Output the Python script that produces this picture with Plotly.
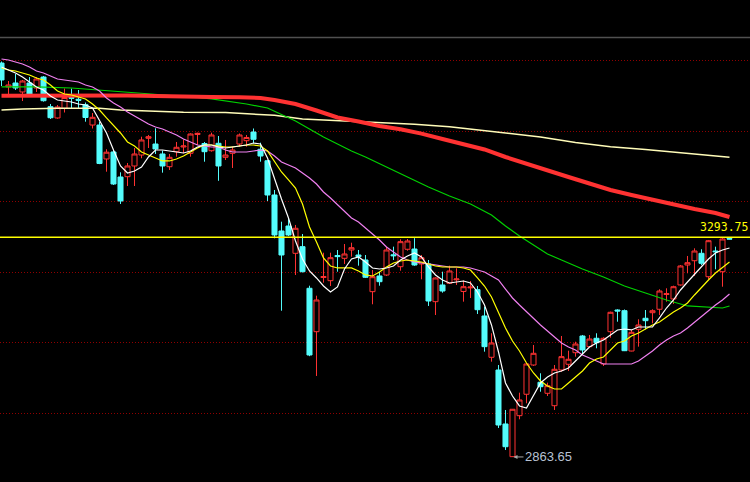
import plotly.graph_objects as go

# ---- daily bars (oldest first) ----
opens = [3635.0, 3588.1, 3595.9, 3578.3, 3595.9, 3586.1, 3607.6, 3549.5, 3527.4, 3546.3,
         3567.5, 3564.0, 3553.4, 3513.6, 3513.6, 3447.1, 3460.8, 3411.8, 3412.4, 3433.4,
         3454.9, 3487.6, 3476.4, 3456.9, 3432.0, 3461.4, 3470.6, 3458.2, 3495.0, 3477.4,
         3463.3, 3477.8, 3450.4, 3458.2, 3476.4, 3482.9, 3499.9, 3466.1, 3443.7, 3376.6,
         3306.1, 3315.9, 3262.4, 3275.4, 3193.9, 3108.9, 3215.0, 3208.8, 3258.0, 3252.6,
         3268.9, 3259.1, 3249.3, 3187.3, 3218.0, 3219.9, 3259.5, 3236.2, 3270.3, 3270.8,
         3241.5, 3241.5, 3167.7, 3200.4, 3203.7, 3210.5, 3187.7, 3194.7, 3191.2, 3139.7,
         3058.8, 3033.9, 2928.2, 2864.2, 2944.5, 2986.4, 3043.7, 3009.9, 2988.3, 2964.0,
         3033.9, 3045.1, 3067.8, 3100.5, 3079.6, 3096.0, 3045.7, 3108.9, 3151.4, 3150.1,
         3071.1, 3113.6, 3135.2, 3146.1, 3152.8, 3181.8, 3173.0, 3200.4, 3239.5, 3247.9,
         3262.4, 3216.6, 3266.9, 3226.4, 3291.4]
highs = [3638.0, 3599.8, 3613.5, 3601.8, 3607.6, 3607.6, 3609.5, 3554.8, 3552.8, 3585.1,
         3585.0, 3582.2, 3557.7, 3537.1, 3520.1, 3466.1, 3464.7, 3421.0, 3439.2, 3468.6,
         3490.7, 3494.1, 3507.2, 3463.7, 3456.9, 3480.4, 3485.3, 3497.4, 3498.6, 3480.4,
         3498.6, 3492.1, 3484.3, 3471.2, 3497.0, 3494.1, 3506.8, 3479.0, 3445.1, 3386.4,
         3324.3, 3331.0, 3317.9, 3300.2, 3199.0, 3179.4, 3263.6, 3263.6, 3268.9, 3280.6,
         3283.2, 3268.9, 3259.1, 3229.7, 3226.4, 3275.4, 3275.4, 3289.9, 3290.4, 3292.0,
         3259.1, 3249.3, 3215.4, 3226.4, 3238.2, 3233.0, 3209.2, 3208.2, 3198.4, 3157.9,
         3105.8, 3043.7, 2955.6, 2957.5, 2989.5, 3047.0, 3082.9, 3027.5, 3009.1, 3043.7,
         3100.5, 3071.7, 3089.3, 3102.5, 3102.5, 3105.8, 3098.0, 3148.2, 3152.8, 3152.4,
         3112.3, 3133.2, 3151.4, 3152.8, 3192.0, 3193.9, 3199.0, 3239.5, 3257.2, 3272.2,
         3270.3, 3288.5, 3275.4, 3293.75, 3291.6]
lows = [3590.0, 3572.4, 3582.2, 3560.6, 3571.0, 3578.3, 3559.5, 3525.4, 3526.0, 3538.1,
        3547.0, 3547.0, 3520.1, 3506.8, 3437.0, 3422.2, 3396.2, 3359.0, 3394.2, 3394.2,
        3448.5, 3468.6, 3456.9, 3420.3, 3425.5, 3451.6, 3458.2, 3451.6, 3474.5, 3441.8,
        3461.4, 3404.4, 3445.1, 3429.5, 3471.2, 3471.2, 3477.8, 3441.8, 3364.8, 3291.8,
        3150.0, 3296.3, 3219.9, 3225.0, 3061.0, 3022.2, 3204.9, 3198.4, 3226.4, 3241.5,
        3255.8, 3238.2, 3214.0, 3162.6, 3199.0, 3218.0, 3249.3, 3228.4, 3267.5, 3238.0,
        3211.5, 3159.3, 3141.6, 3185.3, 3202.3, 3200.4, 3167.7, 3174.9, 3143.6, 3069.8,
        3050.2, 2920.4, 2877.3, 2863.65, 2937.4, 2968.7, 3042.0, 2991.4, 2983.0, 2955.6,
        3030.6, 3032.0, 3060.0, 3064.7, 3078.0, 3076.4, 3041.8, 3097.2, 3128.5, 3071.0,
        3070.5, 3079.6, 3113.6, 3125.4, 3141.6, 3167.7, 3163.2, 3199.0, 3223.3, 3218.0,
        3239.5, 3211.5, 3231.1, 3197.0, 3289.8]
closes = [3601.8, 3592.0, 3586.1, 3599.8, 3572.4, 3603.7, 3561.2, 3527.9, 3548.9, 3567.5,
          3566.0, 3562.0, 3528.3, 3528.7, 3438.3, 3460.4, 3398.1, 3364.8, 3433.4, 3456.9,
          3484.3, 3490.7, 3466.7, 3433.4, 3450.4, 3470.0, 3472.5, 3496.0, 3497.4, 3461.4,
          3494.1, 3433.4, 3454.9, 3464.7, 3494.1, 3489.2, 3485.6, 3452.9, 3376.6, 3298.3,
          3259.1, 3298.3, 3311.4, 3226.4, 3063.3, 3171.0, 3217.0, 3253.8, 3256.0, 3261.1,
          3273.4, 3255.8, 3215.4, 3216.6, 3206.8, 3268.9, 3257.7, 3285.2, 3286.5, 3239.5,
          3253.8, 3169.0, 3214.1, 3188.6, 3227.8, 3212.1, 3197.0, 3196.3, 3152.0, 3079.6,
          3086.8, 2926.2, 2883.7, 2957.0, 2975.2, 3045.7, 3066.6, 3001.2, 3003.2, 3035.3,
          3060.0, 3054.9, 3084.8, 3073.1, 3094.6, 3087.4, 3096.0, 3146.9, 3149.5, 3071.7,
          3107.7, 3122.0, 3130.5, 3150.0, 3188.6, 3183.3, 3197.0, 3237.6, 3244.0, 3266.9,
          3242.8, 3287.1, 3265.5, 3290.4, 3290.2]
days = list(range(len(opens)))

# ---- moving averages ----
ma5 = [3627.2, 3621.3, 3615.5, 3607.6, 3597.8, 3588.1, 3582.2, 3570.4, 3562.6, 3560.6,
       3558.7, 3554.8, 3552.8, 3546.9, 3523.4, 3498.0, 3464.7, 3433.4, 3419.7, 3423.6,
       3431.4, 3451.0, 3464.7, 3464.7, 3462.7, 3460.8, 3458.8, 3462.7, 3470.6, 3474.5,
       3474.5, 3470.6, 3468.6, 3470.6, 3472.5, 3474.5, 3478.4, 3476.5, 3449.0, 3407.9,
       3368.8, 3331.6, 3286.5, 3251.3, 3227.8, 3214.1, 3198.4, 3186.7, 3196.5, 3231.7,
       3251.3, 3255.2, 3245.4, 3233.7, 3231.7, 3233.7, 3237.6, 3249.3, 3257.2, 3263.0,
       3255.2, 3235.6, 3220.0, 3210.2, 3204.3, 3206.2, 3208.2, 3204.3, 3186.7, 3161.2,
       3122.1, 3069.2, 3008.5, 2983.0, 2963.5, 2959.5, 2985.0, 3008.5, 3020.2, 3028.1,
       3032.0, 3037.9, 3051.6, 3065.3, 3079.0, 3086.8, 3092.7, 3102.5, 3112.3, 3114.2,
       3112.3, 3118.1, 3118.1, 3118.1, 3135.8, 3155.3, 3171.0, 3190.6, 3206.2, 3221.9,
       3237.6, 3251.3, 3263.0, 3268.9, 3272.8]
ma10 = [3625.3, 3621.3, 3619.4, 3615.5, 3611.6, 3605.7, 3601.8, 3592.0, 3580.2, 3574.4,
        3572.4, 3568.5, 3564.6, 3554.8, 3543.0, 3527.4, 3513.7, 3498.0, 3480.4, 3472.5,
        3460.8, 3454.9, 3449.0, 3443.2, 3443.2, 3447.1, 3453.0, 3460.8, 3468.6, 3474.5,
        3474.5, 3472.5, 3470.6, 3470.6, 3472.5, 3474.5, 3474.5, 3472.5, 3462.7, 3441.2,
        3421.6, 3406.0, 3390.3, 3359.0, 3313.9, 3284.6, 3253.2, 3237.6, 3233.7, 3233.7,
        3233.7, 3227.8, 3220.0, 3218.0, 3225.8, 3235.6, 3243.5, 3247.4, 3249.3, 3247.4,
        3245.4, 3241.5, 3237.6, 3235.6, 3235.6, 3235.6, 3233.7, 3229.7, 3214.1, 3198.4,
        3176.9, 3147.5, 3116.2, 3090.7, 3071.1, 3047.6, 3028.1, 3012.4, 3002.6, 2996.7,
        2996.7, 3008.5, 3020.2, 3032.0, 3047.6, 3055.5, 3059.4, 3073.1, 3086.8, 3090.7,
        3100.5, 3106.4, 3114.2, 3122.1, 3127.9, 3137.7, 3147.5, 3155.3, 3165.1, 3180.8,
        3196.5, 3210.2, 3223.9, 3235.6, 3245.4]
ma20 = [3642.9, 3640.9, 3637.0, 3633.1, 3627.2, 3619.4, 3615.5, 3609.6, 3603.7, 3601.8,
        3599.8, 3597.8, 3592.0, 3588.1, 3580.2, 3566.5, 3556.7, 3548.9, 3539.1, 3531.3,
        3523.4, 3515.6, 3509.7, 3505.8, 3499.9, 3494.1, 3486.2, 3480.4, 3474.5, 3472.5,
        3470.6, 3470.6, 3464.7, 3460.8, 3460.8, 3460.8, 3462.7, 3464.7, 3462.7, 3453.0,
        3441.2, 3435.3, 3429.5, 3419.7, 3409.9, 3398.1, 3382.5, 3370.7, 3357.0, 3343.3,
        3331.6, 3323.7, 3312.0, 3300.2, 3288.5, 3274.8, 3265.0, 3255.2, 3249.3, 3245.4,
        3243.5, 3241.5, 3239.5, 3237.6, 3235.6, 3235.6, 3235.6, 3233.7, 3229.7, 3225.8,
        3218.0, 3210.2, 3192.5, 3174.9, 3161.2, 3147.5, 3135.8, 3122.1, 3110.3, 3098.6,
        3086.8, 3079.0, 3073.1, 3063.3, 3057.4, 3051.6, 3045.7, 3045.7, 3045.7, 3045.7,
        3045.7, 3051.6, 3061.4, 3071.1, 3082.9, 3092.7, 3100.5, 3106.4, 3116.2, 3127.9,
        3139.7, 3149.5, 3161.2, 3171.0, 3182.8]
ma60_days = [0, 5, 10, 15, 20, 25, 28, 30, 35, 38, 40, 42, 44, 46, 48, 50, 52, 55, 58, 61,
             64, 67, 70, 72, 74, 76, 78, 80, 83, 86, 89, 92, 95, 98, 101, 103, 104]
ma60 = [3588.1, 3588.1, 3586.1, 3581.2, 3576.3, 3571.4, 3567.5, 3564.6, 3554.8, 3546.9,
        3534.2, 3521.5, 3505.8, 3490.2, 3476.5, 3462.7, 3451.0, 3431.4, 3411.8, 3392.3,
        3374.6, 3359.0, 3337.4, 3315.9, 3296.3, 3278.7, 3261.1, 3249.3, 3231.7, 3216.0,
        3198.4, 3184.7, 3171.0, 3159.3, 3157.3, 3155.3, 3159.3]
ma120_days = [0, 12, 15, 18, 22, 26, 30, 34, 37, 39, 42, 45, 48, 51, 54, 57, 60, 63, 66, 69,
              72, 75, 78, 81, 84, 87, 90, 93, 96, 99, 102, 104]
ma120 = [3570.8, 3571.4, 3572.8, 3571.4, 3570.4, 3568.9, 3568.5, 3567.9, 3566.5, 3562.6,
         3554.8, 3542.0, 3528.3, 3520.5, 3511.7, 3505.2, 3496.8, 3486.2, 3476.4, 3465.7,
         3451.0, 3437.3, 3423.6, 3411.8, 3399.1, 3386.4, 3376.6, 3366.8, 3357.0, 3349.2,
         3341.4, 3333.5]
ma250_days = [0, 3, 8, 14, 17, 21, 26, 32, 35, 39, 43, 49, 54, 59, 64, 68, 73, 77, 82, 87,
              92, 97, 101, 104]
ma250 = [3543.0, 3545.0, 3546.4, 3546.4, 3543.0, 3541.1, 3538.5, 3538.1, 3535.2, 3532.6,
         3525.4, 3521.5, 3517.0, 3515.0, 3510.1, 3504.3, 3497.0, 3490.2, 3479.4, 3471.2,
         3465.7, 3459.8, 3454.9, 3450.4]

# ---- price levels ----
grid_levels = [3640.3, 3501.3, 3364.3, 3225.2, 3088.2, 2949.2]
mark_price = 3293.75
low_day = 73
low_price = 2863.65

UP = "#ff3232"
DOWN = "#54fcfc"

fig = go.Figure()

fig.add_trace(go.Candlestick(
    x=days, open=opens, high=highs, low=lows, close=closes,
    increasing=dict(line=dict(color=UP, width=1), fillcolor="#000000"),
    decreasing=dict(line=dict(color=DOWN, width=1), fillcolor=DOWN),
    whiskerwidth=0,
    hoverinfo="skip",
))

fig.add_trace(go.Scatter(x=ma250_days, y=ma250, mode="lines",
                         line=dict(color="#fffcb8", width=1.5), hoverinfo="skip"))
fig.add_trace(go.Scatter(x=ma60_days, y=ma60, mode="lines",
                         line=dict(color="#00d200", width=1.2), hoverinfo="skip"))
fig.add_trace(go.Scatter(x=ma120_days, y=ma120, mode="lines",
                         line=dict(color=UP, width=4), hoverinfo="skip"))
fig.add_trace(go.Scatter(x=days, y=ma20, mode="lines",
                         line=dict(color="#f080f0", width=1.2), hoverinfo="skip"))
fig.add_trace(go.Scatter(x=days, y=ma10, mode="lines",
                         line=dict(color="#ffff00", width=1.2), hoverinfo="skip"))
fig.add_trace(go.Scatter(x=days, y=ma5, mode="lines",
                         line=dict(color="#ffffff", width=1.2), hoverinfo="skip"))

# horizontal price marker, drawn over the bars
fig.add_shape(type="line", xref="paper", x0=0, x1=1, yref="y", y0=mark_price, y1=mark_price,
              line=dict(color="#ffff00", width=1.5), layer="above")
# separator at the top of the price pane
fig.add_shape(type="line", xref="paper", x0=0, x1=1, yref="paper", y0=0.9222, y1=0.9222,
              line=dict(color="#505050", width=1.5))

fig.add_annotation(x=1, xref="paper", y=mark_price, yref="y",
                   text=f"{mark_price:.2f}", showarrow=False,
                   xanchor="right", yanchor="bottom", yshift=1,
                   font=dict(family="DejaVu Sans Mono", size=11.5, color="#ffff00"))

fig.add_annotation(x=low_day, y=low_price, text=f"{low_price:.2f}",
                   showarrow=True, ax=36, ay=0, arrowhead=2, arrowsize=0.8,
                   arrowwidth=1, arrowcolor="#a8a8a8", standoff=1,
                   font=dict(family="Liberation Sans", size=13, color="#b8c2d4"))

fig.update_layout(
    width=750, height=482,
    margin=dict(l=0, r=0, t=0, b=0),
    paper_bgcolor="#000000", plot_bgcolor="#000000",
    showlegend=False,
    hovermode=False,
    boxgap=0.28, boxgroupgap=0,
    xaxis=dict(range=[-0.214, 106.93], showgrid=False, zeroline=False,
               showticklabels=False, rangeslider=dict(visible=False), fixedrange=True),
    yaxis=dict(range=[2814.6, 3758.4], tickvals=grid_levels, showticklabels=False,
               showgrid=True, gridcolor="#900000", gridwidth=1, griddash="1px,2px",
               zeroline=False, fixedrange=True),
)

fig.write_html("out.html", config={"displayModeBar": False})
